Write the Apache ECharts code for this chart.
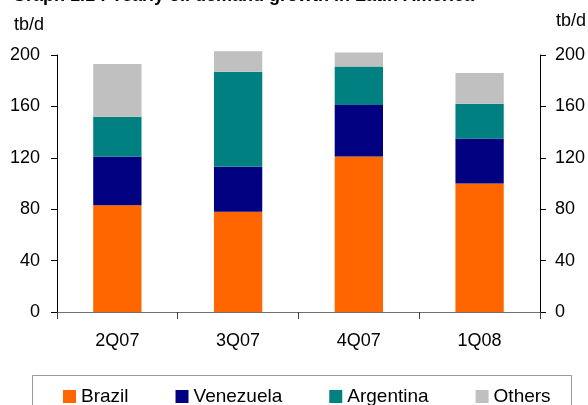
<!DOCTYPE html>
<html>
<head>
<meta charset="utf-8">
<script src="https://cdn.jsdelivr.net/npm/echarts@6/dist/echarts.min.js"></script>
<style>
  html, body { margin: 0; padding: 0; background: #fff; }
  #chart { width: 588px; height: 405px; }
</style>
</head>
<body>
<div id="chart"></div>
<script>
// Quarterly categories and demand growth per country (thousand barrels/day)
const quarters = ['2Q07', '3Q07', '4Q07', '1Q08'];
const brazil = [83, 78, 121, 100];
const venezuela = [38, 35, 40, 35];
const argentina = [31, 74, 30, 27];
const others = [41, 16, 11, 24];
const yTicks = [0, 40, 80, 120, 160, 200];

const FONT = '"Liberation Sans", Arial, sans-serif';

const chart = echarts.init(document.getElementById('chart'), null, { renderer: 'canvas' });

function yAxisCfg(position) {
  return {
    type: 'value',
    position: position,
    min: yTicks[0],
    max: yTicks[yTicks.length - 1],
    interval: yTicks[1] - yTicks[0],
    splitLine: { show: false },
    axisLine: { show: true, lineStyle: { color: '#000', width: 1 } },
    axisTick: { show: true, inside: false, length: 6, lineStyle: { color: '#000' } },
    axisLabel: {
      show: true,
      margin: position === 'left' ? 17 : 15,
      color: '#000',
      fontFamily: FONT,
      fontSize: 18
    }
  };
}

function barSeries(name, data, color) {
  return {
    name: name,
    type: 'bar',
    stack: 'total',
    data: data,
    barWidth: '40%',
    clip: false, // totals slightly above the 200 axis top stay visible
    itemStyle: { color: color },
    emphasis: { disabled: true }
  };
}

chart.setOption({
  animation: false,
  grid: { left: 57, right: 47, top: 55, bottom: 93, containLabel: false },
  xAxis: {
    type: 'category',
    data: quarters,
    axisLine: { show: true, lineStyle: { color: '#707070', width: 1 } },
    axisTick: { show: true, inside: false, length: 7, alignWithLabel: false, lineStyle: { color: '#404040' } },
    axisLabel: { margin: 20, color: '#000', fontFamily: FONT, fontSize: 18 }
  },
  yAxis: [yAxisCfg('left'), yAxisCfg('right')],
  legend: {
    left: 58,
    top: 382,
    itemWidth: 13,
    itemHeight: 13,
    itemGap: 47,
    icon: 'rect',
    textStyle: { color: '#000', fontFamily: FONT, fontSize: 19 },
    data: ['Brazil', 'Venezuela', 'Argentina', 'Others']
  },
  series: [
    barSeries('Brazil', brazil, '#FF6600'),
    barSeries('Venezuela', venezuela, '#000080'),
    barSeries('Argentina', argentina, '#008080'),
    barSeries('Others', others, '#C0C0C0')
  ],
  graphic: [
    {
      type: 'text', left: 12, top: -13, silent: true,
      style: { text: 'Graph 1.1 : Yearly oil demand growth in Latin America', font: 'bold 18px ' + FONT, fill: '#000' }
    },
    {
      type: 'text', left: 14, top: 16, silent: true,
      style: { text: 'tb/d', font: '18px ' + FONT, fill: '#000' }
    },
    {
      type: 'text', left: 556, top: 12, silent: true,
      style: { text: 'tb/d', font: '18px ' + FONT, fill: '#000' }
    },
    {
      type: 'rect', left: 32, top: 375, silent: true, z: -1,
      shape: { x: 0.5, y: 0.5, width: 539, height: 40 },
      style: { fill: '#fff', stroke: '#9a9a9a', lineWidth: 1 }
    }
  ]
});
</script>
</body>
</html>
